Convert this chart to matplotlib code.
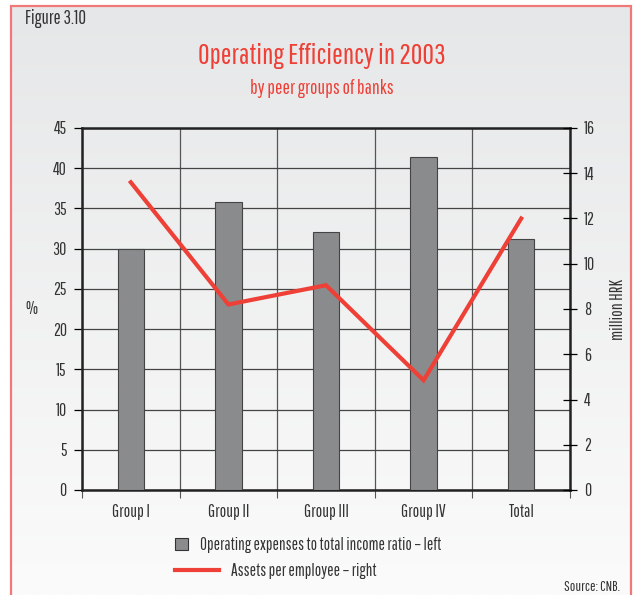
import numpy as np
import matplotlib
matplotlib.use('Agg')
import matplotlib.pyplot as plt
from matplotlib.patches import Rectangle, Patch
from matplotlib.lines import Line2D

plt.rcParams['font.family'] = ['Pathway Gothic One', 'DejaVu Sans']

groups = ['Group I', 'Group II', 'Group III', 'Group IV', 'Total']
cost_ratio = [30.0, 35.8, 32.1, 41.4, 31.2]      # % (left)
assets_per_emp = [13.6, 8.2, 9.05, 4.85, 12.0]   # million HRK (right)

RED = '#ee4036'
BAR = '#8a8b8d'
TXT = '#333333'
FS = 12.5

fig = plt.figure(figsize=(6.33, 5.95), dpi=100)

# background gradient inside the frame
bg = fig.add_axes([0, 0, 1, 1], zorder=-10)
grad = np.linspace(0, 1, 256).reshape(-1, 1)
bg.imshow(grad, cmap=matplotlib.colors.LinearSegmentedColormap.from_list('g', ['#e6e7e8', '#fbfbfb']),
          extent=[11 / 633, 630.5 / 633, 0, 1 - 6 / 595], aspect='auto', origin='upper')
bg.set_xlim(0, 1)
bg.set_ylim(0, 1)
bg.axis('off')
bg.add_patch(Rectangle((11 / 633, -0.01), 619.5 / 633, 1.01 - 6 / 595, fill=False,
                       edgecolor='#f07878', linewidth=1.6))

ax = fig.add_axes([82 / 633, 105 / 595, 488 / 633, 362 / 595])
ax.set_facecolor('none')
x = np.arange(len(groups))
ax.bar(x, cost_ratio, width=0.27, color=BAR, edgecolor='#444444', linewidth=0.8, zorder=3)
ax.set_xlim(-0.5, len(groups) - 0.5)
ax.set_ylim(0, 45)
ax.set_yticks(np.arange(0, 46, 5))
ax.set_xticks(x)
ax.set_xticklabels(groups)
ax.set_xticks(np.arange(-0.5, len(groups)), minor=True)
ax.tick_params(axis='x', which='major', length=0, pad=10, labelsize=FS, labelcolor=TXT)
ax.tick_params(axis='x', which='minor', length=6, width=0.8, color='#555555')
ax.tick_params(axis='y', length=6, width=0.9, direction='out', labelsize=FS, labelcolor=TXT, pad=5)
ax.grid(axis='y', color='#444444', linewidth=0.9, zorder=1)
ax.grid(axis='x', which='minor', color='#555555', linewidth=0.9, zorder=1)
for s in ax.spines.values():
    s.set_linewidth(1.8)
    s.set_color('#222222')
ax.set_ylabel('%', fontsize=FS, color=TXT, rotation=0, labelpad=15, va='center')

ax2 = ax.twinx()
ax2.plot(x, assets_per_emp, color=RED, linewidth=3, zorder=5, solid_joinstyle='miter')
ax2.set_ylim(0, 16)
ax2.set_yticks(np.arange(0, 17, 2))
ax2.tick_params(axis='y', length=10, width=0.9, direction='inout', labelsize=FS, labelcolor=TXT, pad=5)
ax2.set_ylabel('million HRK', fontsize=FS, color=TXT, labelpad=11)
for s in ax2.spines.values():
    s.set_visible(False)
ax.set_zorder(1)
ax2.set_zorder(2)

fig.text(25 / 633, 1 - 18 / 595, 'Figure 3.10', fontsize=13.5, color=TXT, va='center')
fig.text(322 / 633, 1 - 56 / 595, 'Operating Efficiency in 2003', fontsize=20.5, color=RED,
         ha='center', va='center')
fig.text(322 / 633, 1 - 88 / 595, 'by peer groups of banks', fontsize=14, color=RED,
         ha='center', va='center')
fig.text(620 / 633, 1 - 587 / 595, 'Source: CNB.', fontsize=10.5, color=TXT, ha='right', va='center')

fig.legend(handles=[Patch(facecolor=BAR, edgecolor='#333333', linewidth=0.8,
                          label='Operating expenses to total income ratio \u2013 left')],
           loc='center left', bbox_to_anchor=(160 / 633, 1 - 545 / 595), frameon=False,
           handlelength=0.75, handleheight=0.75, handletextpad=0.7, fontsize=12.2,
           labelcolor=TXT)
fig.legend(handles=[Line2D([], [], color=RED, linewidth=3, label='Assets per employee \u2013 right')],
           loc='center left', bbox_to_anchor=(160 / 633, 1 - 571 / 595), frameon=False,
           handlelength=2.6, handletextpad=0.7, fontsize=12.2, labelcolor=TXT)

fig.savefig('out.png', dpi=100, facecolor='white')
